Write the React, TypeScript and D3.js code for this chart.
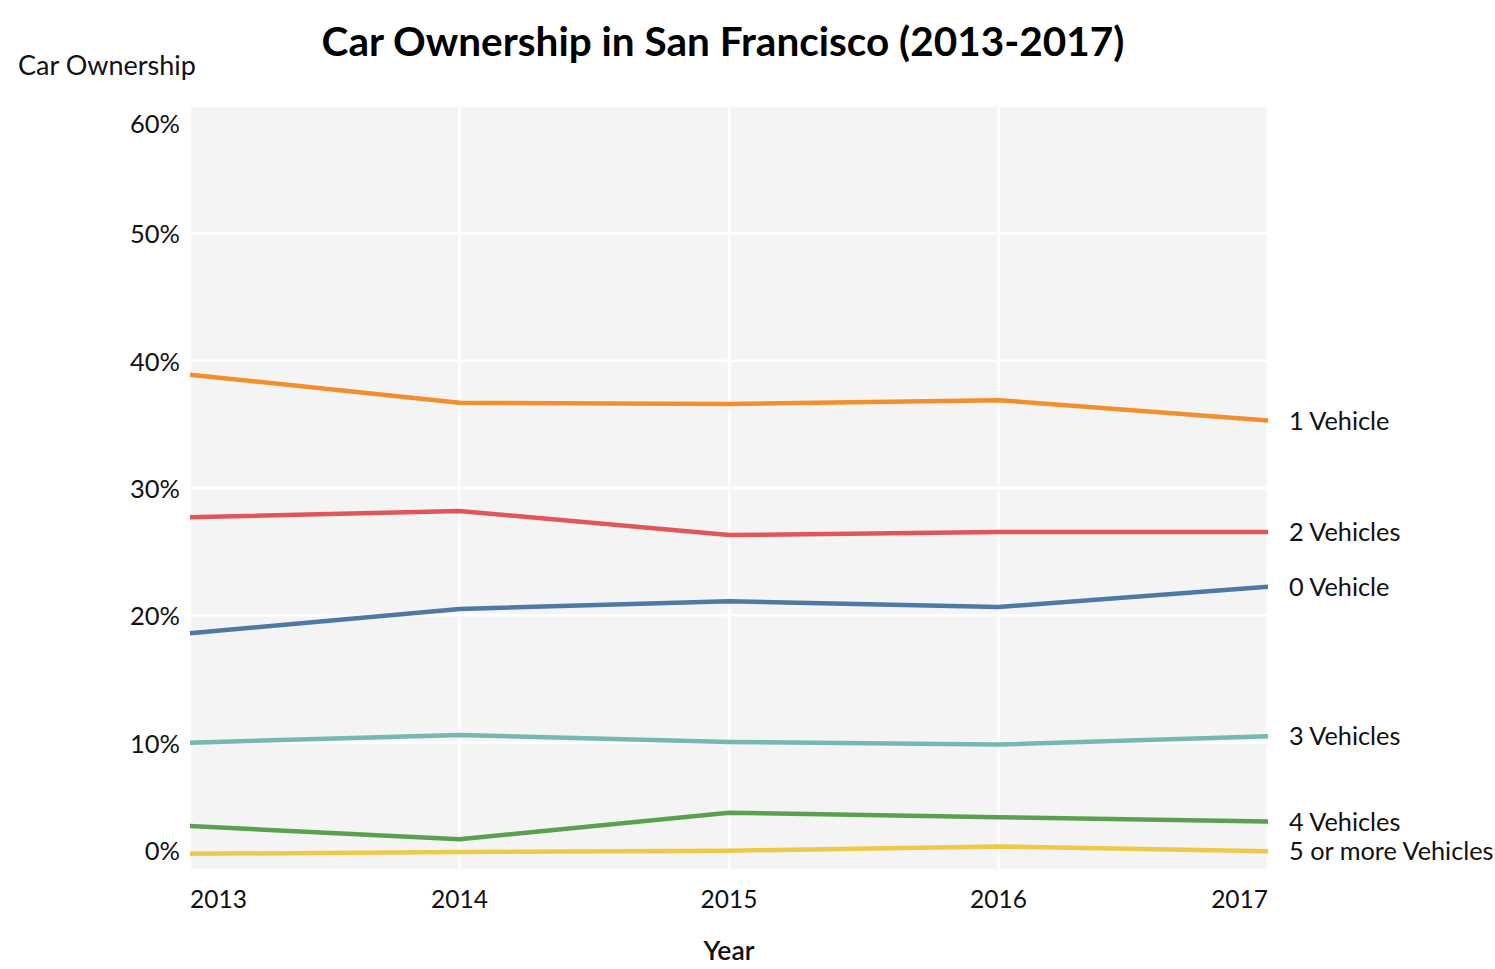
import React from "react";
import * as d3 from "d3";

const years = [2013, 2014, 2015, 2016, 2017];
const seriesNames = ["1 Vehicle", "2 Vehicles", "0 Vehicle", "3 Vehicles", "4 Vehicles", "5 or more Vehicles"];
const oneVehicle = [38.9, 36.7, 36.6, 36.9, 35.3];
const twoVehicles = [27.7, 28.2, 26.3, 26.55, 26.55];
const zeroVehicle = [18.6, 20.5, 21.1, 20.65, 22.25];
const threeVehicles = [10.0, 10.6, 10.05, 9.85, 10.5];
const fourVehicles = [3.45, 2.42, 4.5, 4.15, 3.8];
const fivePlusVehicles = [1.27, 1.42, 1.52, 1.85, 1.47];
const seriesColors = ["#f28e2b", "#e15759", "#4e79a7", "#76b7b2", "#59a14f", "#edc948"];
const yTicks = [0, 10, 20, 30, 40, 50, 60];

const W = 1495;
const H = 969;
const FONT = "Lato, 'Open Sans', sans-serif";

export default function App() {
  const seriesValues = [oneVehicle, twoVehicles, zeroVehicle, threeVehicles, fourVehicles, fivePlusVehicles];
  const x = d3.scaleLinear().domain([2013, 2017]).range([190, 1268]);
  const y = d3.scaleLinear().domain([0, 60]).range([870, 106]);
  const line = d3
    .line<number>()
    .x((_, i) => x(years[i]))
    .y((d) => y(d));

  return (
    <svg
      width={W}
      height={H}
      style={{ position: "absolute", left: 0, top: 0, display: "block", background: "#fff" }}
      fontFamily={FONT}
    >
      <rect x={x(2013)} y={y(60)} width={x(2017) - x(2013)} height={y(0) - y(60)} fill="#f4f4f4" />
      {yTicks.map((t) => (
        <line key={"gy" + t} x1={x(2013)} x2={x(2017)} y1={y(t)} y2={y(t)} stroke="#fff" strokeWidth={2.5} />
      ))}
      {years.map((yr) => (
        <line key={"gx" + yr} x1={x(yr)} x2={x(yr)} y1={y(0)} y2={y(60)} stroke="#fff" strokeWidth={2.5} />
      ))}
      {yTicks.map((t, i) => {
        const dy = i === 0 ? -20 : i === yTicks.length - 1 ? 17 : 0;
        return (
          <text
            key={"ty" + t}
            x={180}
            y={y(t) + dy}
            textAnchor="end"
            dominantBaseline="central"
            fontSize={25.5}
            fill="#111"
          >
            {t + "%"}
          </text>
        );
      })}
      {years.map((yr, i) => (
        <text
          key={"tx" + yr}
          x={x(yr)}
          y={898}
          textAnchor={i === 0 ? "start" : i === years.length - 1 ? "end" : "middle"}
          dominantBaseline="central"
          fontSize={24.5}
          fill="#111"
        >
          {yr}
        </text>
      ))}
      {seriesValues.map((vals, s) => (
        <path
          key={"l" + s}
          d={line(vals) || ""}
          fill="none"
          stroke={seriesColors[s]}
          strokeWidth={4.5}
          strokeLinejoin="round"
        />
      ))}
      {seriesValues.map((vals, s) => (
        <text
          key={"lab" + s}
          x={1289}
          y={y(vals[vals.length - 1]) - 1}
          dominantBaseline="central"
          fontSize={25.3}
          fill="#111"
        >
          {seriesNames[s]}
        </text>
      ))}
      <text x={723} y={40} textAnchor="middle" dominantBaseline="central" fontSize={40.5} fontWeight={700} fill="#000">
        Car Ownership in San Francisco (2013-2017)
      </text>
      <text x={18} y={64} dominantBaseline="central" fontSize={27} fill="#111">
        Car Ownership
      </text>
      <text x={729} y={950} textAnchor="middle" dominantBaseline="central" fontSize={26.5} fontWeight={600} fill="#111">
        Year
      </text>
    </svg>
  );
}
